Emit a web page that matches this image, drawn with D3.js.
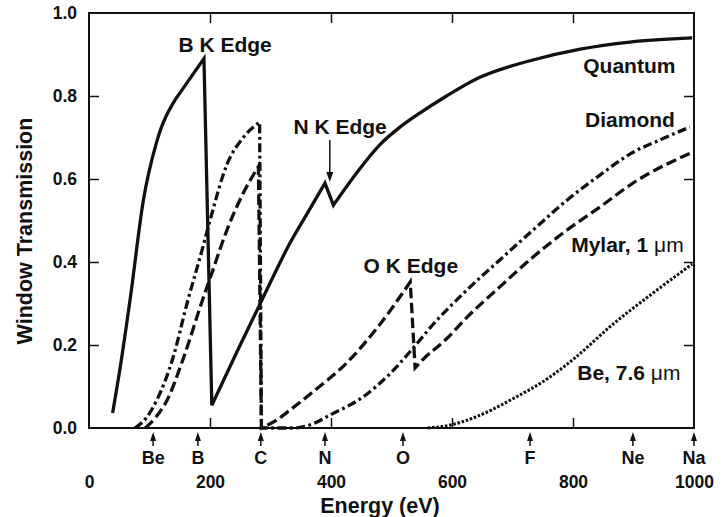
<!DOCTYPE html>
<html lang="en">
<head>
<meta charset="UTF-8">
<title>Window Transmission</title>
<script src="https://cdnjs.cloudflare.com/ajax/libs/d3/7.8.5/d3.min.js"></script>
<style>
  body { margin: 0; background: #fff; }
  svg text { font-family: "Liberation Sans", Arial, Helvetica, sans-serif; font-weight: bold; fill: #111; }
</style>
</head>
<body>
<script>

// values: [energy eV, transmission]
var quantum = [[39,0.036],[52,0.15],[68,0.31],[90,0.55],[112,0.69],[142,0.79],[190,0.89],[203,0.055],
  [245,0.185],[288,0.315],[332,0.445],[362,0.52],[390,0.59],[404,0.537],[442,0.614],[481,0.683],
  [514,0.725],[548,0.76],[591,0.80],[646,0.845],[729,0.885],[812,0.913],[894,0.93],[997,0.94]];
var quantumCorners = [142, 390, 404];

var diamond = [[76,0],[95,0.025],[112,0.067],[139,0.17],[162,0.30],[189,0.44],[200,0.50],[228,0.635],
  [255,0.70],[282,0.737],[285,0],[340,0],[370,0.01],[398,0.031],[453,0.075],[497,0.13],[536,0.193],
  [569,0.25],[625,0.333],[679,0.405],[734,0.477],[790,0.549],[845,0.61],[894,0.66],[945,0.695],[993,0.725]];

var mylar = [[93,0],[110,0.025],[129,0.067],[155,0.164],[188,0.31],[200,0.36],[228,0.477],[255,0.566],
  [280,0.63],[285,0],[311,0.02],[332,0.043],[370,0.087],[426,0.157],[481,0.25],[531,0.352],[539,0.145],
  [552,0.165],[591,0.215],[625,0.267],[679,0.34],[734,0.412],[790,0.477],[845,0.533],[899,0.59],[998,0.665]];

var beryllium = [[560,0],[600,0.008],[640,0.027],[700,0.07],[757,0.118],[800,0.165],[866,0.25],[932,0.325],[997,0.395]];

var elementNames = ["Be", "B", "C", "N", "O", "F", "Ne", "Na"];
var elementEnergy = [106, 180, 284, 390, 519, 729, 899, 1000];

var xTicks = [0, 200, 400, 600, 800, 1000];
var yTicks = [0, 0.2, 0.4, 0.6, 0.8, 1.0];

var margin = {top: 13, right: 34, bottom: 89, left: 89},
    width = 728 - margin.left - margin.right,
    height = 517 - margin.top - margin.bottom;

var svg = d3.select("body").append("svg")
    .attr("width", 728)
    .attr("height", 517)
  .append("g")
    .attr("transform", "translate(" + margin.left + "," + margin.top + ")");

var x = d3.scaleLinear().domain([0, 1000]).range([0, width]);
var y = d3.scaleLinear().domain([0, 1]).range([height, 0]);

// inward ticks on all four sides
var inner = [200, 400, 600, 800], innerY = [0.2, 0.4, 0.6, 0.8];
svg.append("g").attr("transform", "translate(0," + height + ")")
  .call(d3.axisBottom(x).tickValues(inner).tickSize(-10).tickFormat(""));
svg.append("g")
  .call(d3.axisTop(x).tickValues(inner).tickSize(-10).tickFormat(""));
svg.append("g")
  .call(d3.axisLeft(y).tickValues(innerY).tickSize(-10).tickFormat(""));
svg.append("g").attr("transform", "translate(" + width + ",0)")
  .call(d3.axisRight(y).tickValues(innerY).tickSize(-10).tickFormat(""));
svg.selectAll(".domain").remove();
svg.selectAll(".tick line").attr("stroke", "#111").attr("stroke-width", 1.5);

// tick labels
var xl = svg.append("g").attr("transform", "translate(0," + height + ")")
  .call(d3.axisBottom(x).tickValues(xTicks).tickSize(0).tickPadding(48).tickFormat(d3.format("d")));
xl.select(".domain").remove();
xl.selectAll("text").style("font-size", "17.5px").style("font-family", null);

var yl = svg.append("g")
  .call(d3.axisLeft(y).tickValues(yTicks).tickSize(0).tickPadding(12).tickFormat(d3.format(".1f")));
yl.select(".domain").remove();
yl.selectAll("text").style("font-size", "17.5px").style("font-family", null);

svg.append("rect")
  .attr("width", width).attr("height", height)
  .attr("fill", "none").attr("stroke", "#111").attr("stroke-width", 2);

// element markers below the axis
var marks = svg.append("g").selectAll("g")
  .data(elementNames).enter().append("g")
  .attr("transform", function(d, i) { return "translate(" + x(elementEnergy[i]) + "," + height + ")"; });
marks.append("path").attr("d", "M0,4L3,13L-3,13Z").attr("fill", "#111");
marks.append("line").attr("y1", 10).attr("y2", 18).attr("stroke", "#111").attr("stroke-width", 1.5);
marks.append("text").attr("y", 36).attr("text-anchor", "middle").style("font-size", "18px")
  .text(function(d) { return d; });

// curves: smooth pieces joined by straight edge drops
var line = d3.line()
  .x(function(d) { return x(d[0]); })
  .y(function(d) { return y(d[1]); })
  .curve(d3.curveMonotoneX);

function edgePath(pts, corners) {
  corners = corners || [];
  var segs = [], cur = [pts[0]];
  for (var i = 1; i < pts.length; i++) {
    var q = pts[i - 1], p = pts[i];
    if (q[1] - p[1] > 0.1) {
      segs.push(cur); segs.push([q, p]); cur = [p];
    } else {
      cur.push(p);
      if (corners.indexOf(p[0]) >= 0 && i < pts.length - 1) { segs.push(cur); cur = [p]; }
    }
  }
  segs.push(cur);
  return segs.map(function(s, i) {
    var d = line(s);
    return i ? d.replace(/^M/, "L") : d;
  }).join("");
}

function curve(pts, dash, w, corners) {
  svg.append("path")
    .attr("d", edgePath(pts, corners))
    .attr("fill", "none")
    .attr("stroke", "#111")
    .attr("stroke-width", w)
    .attr("stroke-dasharray", dash)
    .attr("stroke-linejoin", "miter");
}

curve(quantum, null, 3.3, quantumCorners);
curve(diamond, "9,3.5,2.8,3.5", 3.3);
curve(mylar, "10.5,4.5", 3.3);
curve(beryllium, "2.6,1.7", 3);

// annotations
function label(txt, e, t, anchor, unit) {
  var tx = svg.append("text")
    .attr("x", x(e)).attr("y", y(t))
    .attr("text-anchor", anchor)
    .style("font-size", "21px")
    .text(txt);
  if (unit) tx.append("tspan").style("font-weight", "normal").text(unit);
}
label("B K Edge", 225, 0.906, "middle");
label("N K Edge", 415, 0.708, "middle");
label("O K Edge", 532, 0.373, "middle");
label("Quantum", 817, 0.855, "start");
label("Diamond", 820, 0.725, "start");
label("Mylar, 1 ", 797, 0.424, "start", "\u03bcm");
label("Be, 7.6 ", 807, 0.116, "start", "\u03bcm");

svg.append("line")
  .attr("x1", x(398)).attr("x2", x(398))
  .attr("y1", y(0.694)).attr("y2", y(0.61))
  .attr("stroke", "#111").attr("stroke-width", 1.5);
svg.append("path")
  .attr("d", "M" + x(398) + "," + y(0.593) + "l-3.5,-10l7,0z")
  .attr("fill", "#111");

// axis titles
svg.append("text")
  .attr("x", 291).attr("y", height + 85)
  .attr("text-anchor", "middle")
  .style("font-size", "21.5px")
  .text("Energy (eV)");

svg.append("text")
  .attr("transform", "translate(-57," + 218 + ") rotate(-90)")
  .attr("text-anchor", "middle")
  .style("font-size", "21.5px")
  .text("Window Transmission");

</script>
</body>
</html>
